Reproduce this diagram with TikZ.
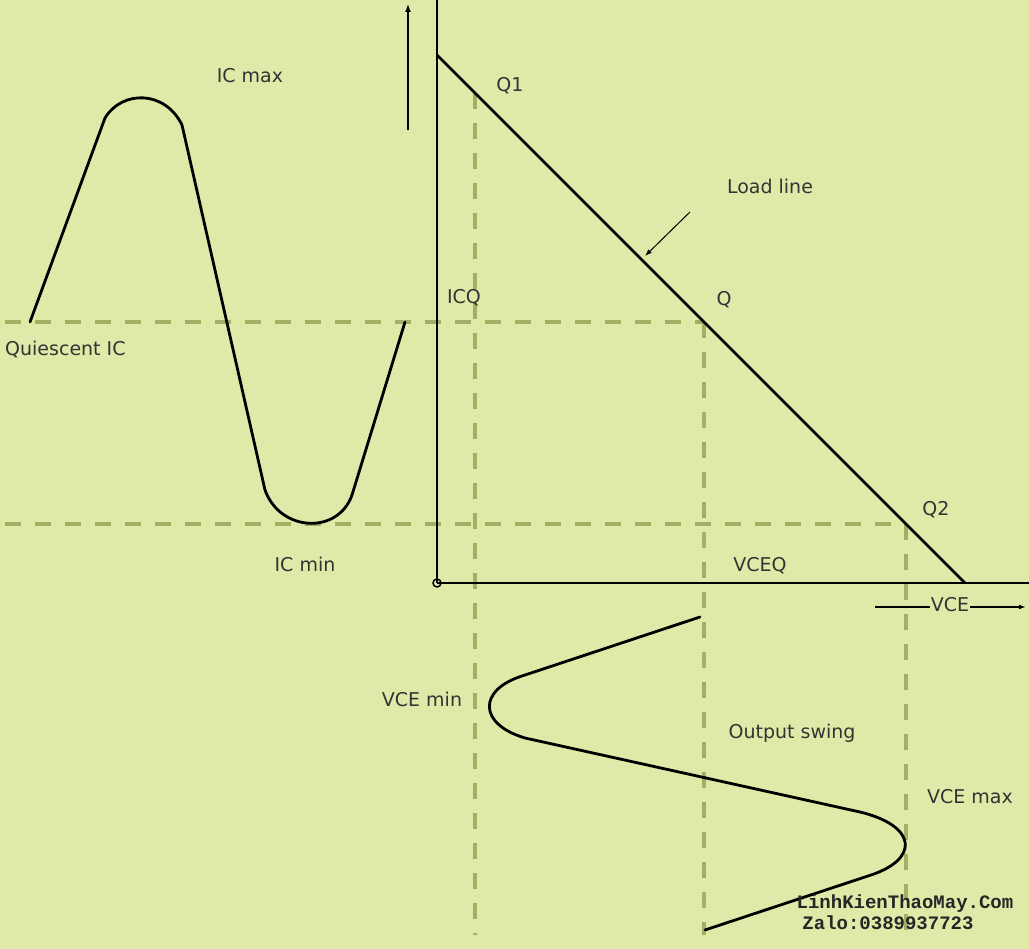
\documentclass[tikz,border=0pt]{standalone}
\usepackage{fontspec}
\setsansfont{DejaVu Sans}
\setmonofont{Liberation Mono}
\usetikzlibrary{arrows.meta}
\definecolor{bg}{RGB}{225,233,168}
\definecolor{dash}{RGB}{165,175,100}
\tikzset{
  guide/.style={draw=dash,line width=3.5pt,dash pattern=on 16pt off 14pt},
  curve/.style={draw=black,line width=2.8pt,line join=round,line cap=round},
  axis/.style={draw=black,line width=2.4pt},
  lbl/.style={font=\sffamily\fontsize{19}{22}\selectfont,text=black!80,inner sep=1pt},
  wm/.style={font=\ttfamily\bfseries\fontsize{19}{21}\selectfont,text=black!85,inner sep=0pt}
}
\begin{document}
\begin{tikzpicture}[x=1pt,y=-1pt]
\fill[bg] (0,0) rectangle (1029,949);
\useasboundingbox (0,0) rectangle (1029,949);
% key points
\coordinate (O) at (437,583);
\coordinate (ytop) at (437,0);
\coordinate (xend) at (1029,583);
\coordinate (Q1) at (475,93);
\coordinate (Q) at (704,322);
\coordinate (Q2) at (906,524);
\coordinate (LLa) at (437,55);
\coordinate (LLb) at (965,583);
% guide lines
\draw[guide] (5,322) -- (Q);
\draw[guide] (5,524) -- (Q2);
\draw[guide] (Q) -- (704,935);
\draw[guide] (Q2) -- (906,935);
\draw[guide] (Q1) -- (475,935);
% axes
\draw[axis] (O) -- (ytop);
\draw[axis] (O) -- (xend);
\draw[black,line width=1.5pt] (O) circle (4);
\coordinate (icA) at (408,130);
\coordinate (icB) at (408,4);
\draw[black,line width=1.4pt,-{Latex[length=8pt,width=6pt]}] (icA) -- (icB);
% load line
\draw[curve] (LLa) -- (LLb);
% left waveform (IC)
\draw[curve] (30,322) -- (105,118) .. controls (122,90) and (165,90) .. (182,125)
  -- (265,490) .. controls (280,532) and (338,535) .. (352,495) -- (405,322);
% bottom waveform (VCE)
\draw[curve] (700,617) -- (522,676) .. controls (478,690) and (478,724) .. (525,738)
  -- (860,812) .. controls (918,826) and (920,860) .. (868,876) -- (705,930);
% labels
\node[lbl] (icmax) at (250,76) {IC max};
\node[lbl] (q1) at (510,86) {Q1};
\node[lbl] (ll) at (770,186) {Load line};
\coordinate (llarr) at (645,256);
\draw[black,line width=1pt,-{Latex[length=7pt,width=5pt]}] (690,212) -- (llarr);
\node[lbl,anchor=west] (icq) at (4,350) {Quiescent IC};
\node[lbl] (icqax) at (464,298) {ICQ};
\node[lbl] (q) at (724,300) {Q};
\node[lbl] (q2) at (936,510) {Q2};
\node[lbl] (icmin) at (305,564) {IC min};
\node[lbl] (vceq) at (760,566) {VCEQ};
\coordinate (vceL) at (875,607);
\coordinate (vceR) at (1026,607);
\draw[black,line width=1.4pt,-{Latex[length=7pt,width=5pt]}] (vceL) -- (vceR);
\node[lbl,fill=bg] (vce) at (950,605) {VCE};
\node[lbl] (vcemin) at (422,699) {VCE min};
\node[lbl] (swing) at (792,733) {Output swing};
\node[lbl] (vcemax) at (970,797) {VCE max};
\node[wm] (wm1) at (905,904) {LinhKienThaoMay.Com};
\node[wm] (wm2) at (888,923) {Zalo:0389937723};
\end{tikzpicture}
\end{document}
